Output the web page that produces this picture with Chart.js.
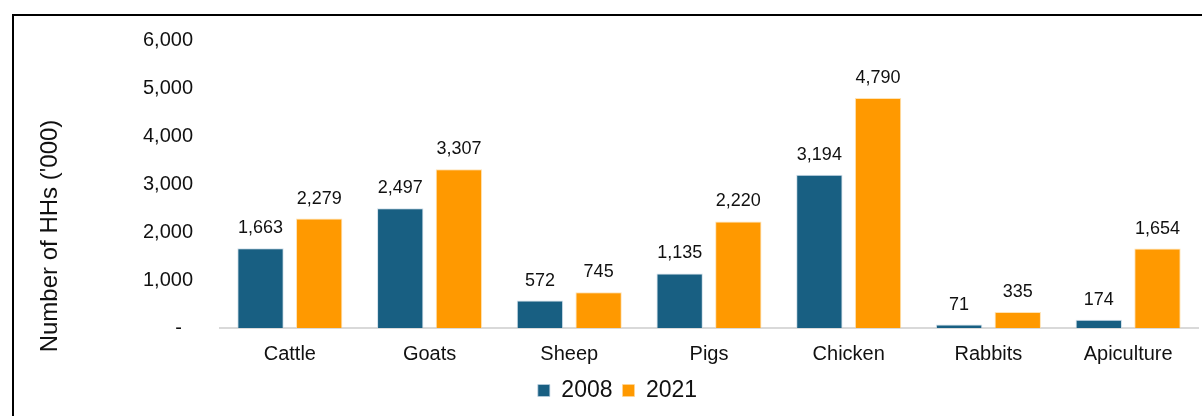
<!DOCTYPE html>
<html>
<head>
<meta charset="utf-8">
<title>Livestock-keeping households</title>
<script src="https://cdn.jsdelivr.net/npm/chart.js@4"></script>
<style>
  html, body { margin: 0; padding: 0; background: #fff; }
  body { width: 1202px; height: 416px; overflow: hidden; position: relative; }
  .frame {
    position: absolute; left: 12px; top: 14px;
    width: 1207px; height: 400px;
    border: 2px solid #000;
  }
</style>
</head>
<body>
<div class="frame"><canvas id="hhChart"></canvas></div>
<script>
// HHs rearing each livestock type, thousands
const categories = ['Cattle', 'Goats', 'Sheep', 'Pigs', 'Chicken', 'Rabbits', 'Apiculture'];
const hh2008 = [1663, 2497, 572, 1135, 3194, 71, 174];
const hh2021 = [2279, 3307, 745, 2220, 4790, 335, 1654];
const seriesLabels = ['2008', '2021'];
const yTicks = [0, 1000, 2000, 3000, 4000, 5000, 6000];
const yTitle = "Number of HHs ('000)";

const FONT = "'Liberation Sans', Arial, sans-serif";
const INK = '#111';
const TEAL = '#185f82';
const ORANGE = '#ff9900';

const fmt = v => v === 0 ? '-  ' : v.toLocaleString('en-US');

// value labels above every bar
const barLabels = {
  id: 'barLabels',
  afterDatasetsDraw(chart) {
    const ctx = chart.ctx;
    ctx.save();
    ctx.font = `18px ${FONT}`;
    ctx.fillStyle = INK;
    ctx.textAlign = 'center';
    ctx.textBaseline = 'middle';
    chart.data.datasets.forEach((ds, i) => {
      chart.getDatasetMeta(i).data.forEach((bar, j) => {
        ctx.fillText(fmt(ds.data[j]), bar.x, bar.y - 20);
      });
    });
    ctx.restore();
  },
};

// rotated y title, centred on the whole chart height rather than the axis
const sideTitle = {
  id: 'sideTitle',
  afterDraw(chart) {
    const ctx = chart.ctx;
    ctx.save();
    ctx.translate(36, 220);
    ctx.rotate(-Math.PI / 2);
    ctx.font = `24px ${FONT}`;
    ctx.fillStyle = INK;
    ctx.textAlign = 'center';
    ctx.textBaseline = 'middle';
    ctx.fillText(yTitle, 0, 0);
    ctx.restore();
  },
};

new Chart(document.getElementById('hhChart'), {
  type: 'bar',
  data: {
    labels: categories,
    datasets: [
      { label: seriesLabels[0], data: hh2008, backgroundColor: TEAL, borderColor: 'rgba(190,210,225,0.7)', borderWidth: 1 },
      { label: seriesLabels[1], data: hh2021, backgroundColor: ORANGE, borderColor: 'rgba(255,215,150,0.7)', borderWidth: 1 },
    ],
  },
  options: {
    responsive: true, maintainAspectRatio: false, animation: false,
    categoryPercentage: 0.84, barPercentage: 0.79,
    layout: { padding: { top: 24, right: 23, bottom: 4, left: 23 } },
    plugins: {
      tooltip: { enabled: false },
      legend: {
        position: 'bottom',
        labels: { color: INK, font: { family: FONT, size: 23 }, boxWidth: 12, boxHeight: 12, padding: 10 },
      },
    },
    scales: {
      x: {
        grid: { display: false, drawTicks: false },
        border: { display: true, color: '#d9d9d9', width: 2 },
        ticks: { color: INK, font: { family: FONT, size: 20 }, padding: 14, maxRotation: 0 },
        afterFit: s => { s.height = 41; },
      },
      y: {
        min: 0, max: 6000,
        grid: { display: false, drawTicks: false },
        border: { display: false },
        afterBuildTicks: s => { s.ticks = yTicks.map(v => ({ value: v })); },
        ticks: { color: INK, font: { family: FONT, size: 20 }, padding: 27, callback: v => fmt(v) },
        // the wide label gap shouldn't push the plot down
        afterFit: s => { s.width = 183; s.paddingTop = 0; s.paddingBottom = 0; },
      },
    },
  },
  plugins: [barLabels, sideTitle],
});
</script>
</body>
</html>
